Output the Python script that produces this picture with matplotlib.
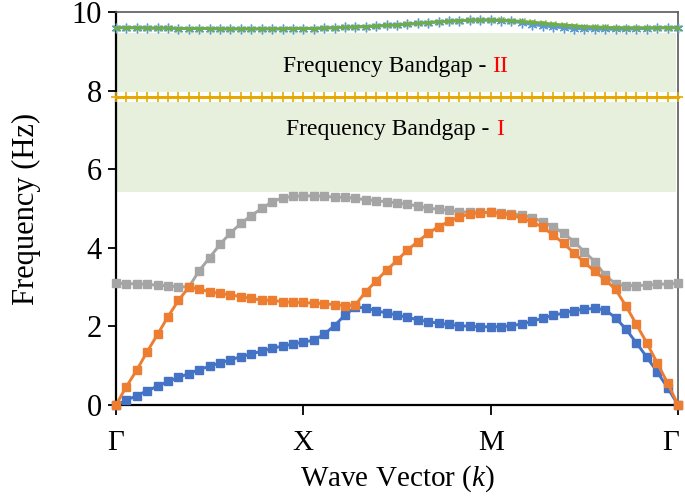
import numpy as np
import matplotlib
matplotlib.use("Agg")
import matplotlib.pyplot as plt
from matplotlib.transforms import ScaledTranslation

plt.rcParams['font.family'] = ['Liberation Serif', 'DejaVu Serif']
plt.rcParams['mathtext.fontset'] = 'custom'
plt.rcParams['mathtext.it'] = 'Liberation Serif:italic'
plt.rcParams['mathtext.rm'] = 'Liberation Serif'

# x tick labels (high-symmetry points)
sym_labels = ['Γ', 'X', 'M', 'Γ']
points_per_segment = 18

band1 = [0.0, 0.12, 0.24, 0.36, 0.48, 0.6, 0.7, 0.8, 0.9, 0.99, 1.07, 1.15, 1.23, 1.3, 1.37, 1.44, 1.5, 1.55, 1.6,
         1.65, 1.8, 2.02, 2.29, 2.49, 2.47, 2.4, 2.34, 2.29, 2.23, 2.17, 2.12, 2.08, 2.05, 2.02, 2.0, 1.99, 1.99,
         1.99, 2.02, 2.06, 2.13, 2.21, 2.28, 2.34, 2.4, 2.44, 2.46, 2.42, 2.22, 1.93, 1.58, 1.22, 0.84, 0.44, 0.0]
band2 = [0.0, 0.47, 0.89, 1.36, 1.8, 2.25, 2.66, 3.0, 2.95, 2.88, 2.84, 2.8, 2.76, 2.71, 2.67, 2.66, 2.63, 2.61, 2.61,
         2.59, 2.58, 2.55, 2.53, 2.55, 2.88, 3.16, 3.43, 3.68, 3.94, 4.16, 4.37, 4.54, 4.67, 4.79, 4.86, 4.89, 4.9,
         4.87, 4.83, 4.75, 4.66, 4.52, 4.33, 4.11, 3.87, 3.63, 3.4, 3.19, 2.94, 2.52, 2.05, 1.58, 1.07, 0.56, 0.0]
band3 = [3.1, 3.09, 3.08, 3.07, 3.05, 3.03, 3.01, 3.0, 3.42, 3.75, 4.09, 4.38, 4.62, 4.82, 5.0, 5.17, 5.27, 5.31, 5.32,
         5.32, 5.31, 5.29, 5.28, 5.26, 5.22, 5.2, 5.17, 5.14, 5.11, 5.06, 5.01, 4.98, 4.95, 4.92, 4.9, 4.9, 4.9,
         4.89, 4.87, 4.83, 4.77, 4.66, 4.54, 4.37, 4.16, 3.9, 3.65, 3.3, 3.08, 3.04, 3.04, 3.05, 3.07, 3.08, 3.1]
band_flat = [7.84, 7.84, 7.84, 7.84, 7.84, 7.84, 7.84, 7.84, 7.84, 7.84, 7.84, 7.84, 7.84, 7.84, 7.84, 7.84, 7.84, 7.84, 7.84,
             7.84, 7.84, 7.84, 7.84, 7.84, 7.84, 7.84, 7.84, 7.84, 7.84, 7.84, 7.84, 7.84, 7.84, 7.84, 7.84, 7.84, 7.84,
             7.84, 7.84, 7.84, 7.84, 7.84, 7.84, 7.84, 7.84, 7.84, 7.84, 7.84, 7.84, 7.84, 7.84, 7.84, 7.84, 7.84, 7.84]
band4 = [9.6, 9.6, 9.6, 9.59, 9.59, 9.59, 9.58, 9.58, 9.58, 9.58, 9.57, 9.57, 9.57, 9.57, 9.57, 9.57, 9.57, 9.58, 9.58,
         9.58, 9.59, 9.6, 9.61, 9.62, 9.63, 9.64, 9.66, 9.67, 9.69, 9.71, 9.73, 9.75, 9.76, 9.78, 9.79, 9.79, 9.79,
         9.78, 9.76, 9.73, 9.68, 9.65, 9.62, 9.6, 9.58, 9.57, 9.56, 9.56, 9.56, 9.56, 9.57, 9.58, 9.59, 9.6, 9.6]
band5 = [9.6, 9.6, 9.6, 9.59, 9.59, 9.59, 9.58, 9.58, 9.58, 9.58, 9.57, 9.57, 9.57, 9.57, 9.57, 9.57, 9.57, 9.58, 9.58,
         9.58, 9.59, 9.6, 9.61, 9.62, 9.63, 9.64, 9.66, 9.67, 9.69, 9.71, 9.73, 9.75, 9.76, 9.78, 9.79, 9.8, 9.8,
         9.79, 9.78, 9.76, 9.74, 9.72, 9.69, 9.67, 9.65, 9.63, 9.62, 9.61, 9.6, 9.6, 9.6, 9.6, 9.6, 9.6, 9.6]

gap1 = (5.42, 7.72)
gap2 = (7.96, 9.47)

n_seg = len(sym_labels) - 1
k = np.linspace(0, n_seg, n_seg * points_per_segment + 1)

fig = plt.figure(figsize=(6.85, 5.01), dpi=100)
ax = fig.add_axes([116/685, 1 - 405/501, (678-116)/685, (405-12)/501])

shade = '#E6F0DD'
ax.fill_between([0, 2.99], gap1[0], gap1[1], color=shade, lw=0, zorder=0)
ax.fill_between([0, 2.99], gap2[0], gap2[1], color=shade, lw=0, zorder=0)

lw = 2.1
ms = 5.6
ax.plot(k, band3, color='#A5A5A5', lw=lw, marker='s', ms=ms, clip_on=False, zorder=3)
ax.plot(k, band2, color='#ED7D31', lw=lw, marker='s', ms=ms, clip_on=False, zorder=4)
ax.plot(k, band1, color='#4472C4', lw=lw, marker='s', ms=ms, clip_on=False, zorder=3.5)
ax.plot(k, band_flat, color='#E6A800', lw=lw, marker='+', ms=7, mew=1.2, clip_on=False, zorder=3)
ax.plot(k, band4, color='#5B9BD5', lw=lw, marker=(6, 2, 0), ms=7, mew=1.0, clip_on=False, zorder=3)
ax.plot(k, band5, color='#70AD47', lw=lw, marker='x', ms=5, mew=1.0, clip_on=False, zorder=3.2)

ax.set_xlim(0, n_seg)
ax.set_ylim(0, 10)
ax.set_xticks(range(n_seg + 1))
ax.set_xticklabels(sym_labels)
ax.set_yticks([0, 2, 4, 6, 8, 10])

ax.tick_params(axis='y', direction='out', length=6, width=1.3, labelsize=22, pad=4, colors='black')
ax.tick_params(axis='x', direction='out', length=7, width=1.3, labelsize=21, pad=11, colors='black')

# nudge the last x tick label slightly inward so it stays within the canvas
last = ax.get_xticklabels()[-1]
last.set_transform(last.get_transform() + ScaledTranslation(-5/72, 0, fig.dpi_scale_trans))

for side in ['left', 'bottom']:
    ax.spines[side].set_linewidth(1.6)
    ax.spines[side].set_color('black')
for side in ['top', 'right']:
    ax.spines[side].set_linewidth(1.2)
    ax.spines[side].set_color('#595959')

ax.set_ylabel('Frequency (Hz)', fontsize=22, labelpad=22)
ax.set_xlabel('Wave Vector ($\\mathit{k}$)', fontsize=21, labelpad=5)

t1 = ax.text(0.89, 8.62, 'Frequency Bandgap - ', fontsize=17, va='center', ha='left', zorder=5)
ax.annotate('II', xy=(1, 0.5), xycoords=t1, va='center', ha='left', fontsize=17, color='#FF0000')
t2 = ax.text(0.91, 7.0, 'Frequency Bandgap - ', fontsize=17, va='center', ha='left', zorder=5)
ax.annotate('I', xy=(1, 0.5), xycoords=t2, va='center', ha='left', fontsize=17, color='#FF0000')

fig.savefig('out.png', dpi=100)
